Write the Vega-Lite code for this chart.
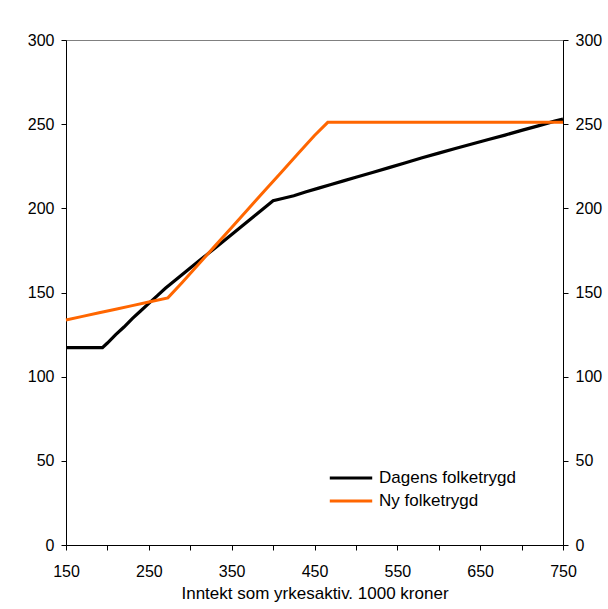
{
  "$schema": "https://vega.github.io/schema/vega-lite/v6.json",
  "width": 497,
  "height": 505,
  "autosize": {"type": "none"},
  "padding": {"left": 66, "top": 40, "right": 45, "bottom": 64},
  "background": "white",
  "config": {
    "view": {"stroke": "#808080", "strokeWidth": 1},
    "font": "Liberation Sans",
    "axis": {"labelFont": "Liberation Sans", "titleFont": "Liberation Sans", "labelColor": "#000", "titleColor": "#000", "domainColor": "#000", "tickColor": "#000", "labelFontSize": 16, "titleFontSize": 17, "titleFontWeight": "normal", "grid": false, "tickSize": 5, "domainWidth": 1, "tickWidth": 1},
    "legend": {"labelFont": "Liberation Sans", "labelFontSize": 17, "labelColor": "#000"}
  },
  "data": {
    "values": [
      {"serie": "Dagens folketrygd", "inntekt": 150, "verdi": 117.2},
      {"serie": "Dagens folketrygd", "inntekt": 194, "verdi": 117.2},
      {"serie": "Dagens folketrygd", "inntekt": 200, "verdi": 120},
      {"serie": "Dagens folketrygd", "inntekt": 210, "verdi": 125},
      {"serie": "Dagens folketrygd", "inntekt": 220, "verdi": 129.5},
      {"serie": "Dagens folketrygd", "inntekt": 230, "verdi": 134.5},
      {"serie": "Dagens folketrygd", "inntekt": 240, "verdi": 139},
      {"serie": "Dagens folketrygd", "inntekt": 250, "verdi": 143.5},
      {"serie": "Dagens folketrygd", "inntekt": 260, "verdi": 148},
      {"serie": "Dagens folketrygd", "inntekt": 270, "verdi": 152.5},
      {"serie": "Dagens folketrygd", "inntekt": 280, "verdi": 156.5},
      {"serie": "Dagens folketrygd", "inntekt": 290, "verdi": 160.5},
      {"serie": "Dagens folketrygd", "inntekt": 300, "verdi": 164.5},
      {"serie": "Dagens folketrygd", "inntekt": 310, "verdi": 168.5},
      {"serie": "Dagens folketrygd", "inntekt": 320, "verdi": 172.5},
      {"serie": "Dagens folketrygd", "inntekt": 330, "verdi": 176.5},
      {"serie": "Dagens folketrygd", "inntekt": 340, "verdi": 180.5},
      {"serie": "Dagens folketrygd", "inntekt": 350, "verdi": 184.5},
      {"serie": "Dagens folketrygd", "inntekt": 360, "verdi": 188.5},
      {"serie": "Dagens folketrygd", "inntekt": 370, "verdi": 192.5},
      {"serie": "Dagens folketrygd", "inntekt": 380, "verdi": 196.5},
      {"serie": "Dagens folketrygd", "inntekt": 390, "verdi": 200.5},
      {"serie": "Dagens folketrygd", "inntekt": 400, "verdi": 204.5},
      {"serie": "Dagens folketrygd", "inntekt": 410, "verdi": 205.7},
      {"serie": "Dagens folketrygd", "inntekt": 425, "verdi": 207.5},
      {"serie": "Dagens folketrygd", "inntekt": 440, "verdi": 209.8},
      {"serie": "Dagens folketrygd", "inntekt": 455, "verdi": 212},
      {"serie": "Dagens folketrygd", "inntekt": 470, "verdi": 214.2},
      {"serie": "Dagens folketrygd", "inntekt": 485, "verdi": 216.3},
      {"serie": "Dagens folketrygd", "inntekt": 500, "verdi": 218.5},
      {"serie": "Dagens folketrygd", "inntekt": 520, "verdi": 221.3},
      {"serie": "Dagens folketrygd", "inntekt": 540, "verdi": 224.2},
      {"serie": "Dagens folketrygd", "inntekt": 560, "verdi": 227.1},
      {"serie": "Dagens folketrygd", "inntekt": 580, "verdi": 230},
      {"serie": "Dagens folketrygd", "inntekt": 600, "verdi": 232.8},
      {"serie": "Dagens folketrygd", "inntekt": 620, "verdi": 235.5},
      {"serie": "Dagens folketrygd", "inntekt": 640, "verdi": 238.2},
      {"serie": "Dagens folketrygd", "inntekt": 660, "verdi": 240.9},
      {"serie": "Dagens folketrygd", "inntekt": 680, "verdi": 243.5},
      {"serie": "Dagens folketrygd", "inntekt": 700, "verdi": 246.3},
      {"serie": "Dagens folketrygd", "inntekt": 720, "verdi": 249},
      {"serie": "Dagens folketrygd", "inntekt": 740, "verdi": 251.8},
      {"serie": "Dagens folketrygd", "inntekt": 750, "verdi": 253},
      {"serie": "Ny folketrygd", "inntekt": 150, "verdi": 133.7},
      {"serie": "Ny folketrygd", "inntekt": 170, "verdi": 135.8},
      {"serie": "Ny folketrygd", "inntekt": 190, "verdi": 138},
      {"serie": "Ny folketrygd", "inntekt": 210, "verdi": 140},
      {"serie": "Ny folketrygd", "inntekt": 230, "verdi": 142.2},
      {"serie": "Ny folketrygd", "inntekt": 250, "verdi": 144.4},
      {"serie": "Ny folketrygd", "inntekt": 273, "verdi": 146.8},
      {"serie": "Ny folketrygd", "inntekt": 290, "verdi": 155.8},
      {"serie": "Ny folketrygd", "inntekt": 310, "verdi": 166.8},
      {"serie": "Ny folketrygd", "inntekt": 330, "verdi": 177.7},
      {"serie": "Ny folketrygd", "inntekt": 350, "verdi": 188.6},
      {"serie": "Ny folketrygd", "inntekt": 370, "verdi": 199.6},
      {"serie": "Ny folketrygd", "inntekt": 390, "verdi": 210.6},
      {"serie": "Ny folketrygd", "inntekt": 410, "verdi": 221.5},
      {"serie": "Ny folketrygd", "inntekt": 430, "verdi": 232.4},
      {"serie": "Ny folketrygd", "inntekt": 450, "verdi": 243.3},
      {"serie": "Ny folketrygd", "inntekt": 466, "verdi": 251.1},
      {"serie": "Ny folketrygd", "inntekt": 750, "verdi": 251.1}
    ]
  },
  "encoding": {
    "x": {
      "field": "inntekt", "type": "quantitative",
      "scale": {"domain": [150, 750], "nice": false, "zero": false},
      "axis": {
        "title": "Inntekt som yrkesaktiv. 1000 kroner",
        "values": [150, 200, 250, 300, 350, 400, 450, 500, 550, 600, 650, 700, 750],
        "labelExpr": "datum.value % 100 == 50 ? datum.label : ''",
        "labelPadding": 13, "titlePadding": 6, "labelFlush": false, "labelOverlap": false
      }
    },
    "color": {
      "field": "serie", "type": "nominal",
      "scale": {"domain": ["Dagens folketrygd", "Ny folketrygd"], "range": ["#000000", "#FF6600"]},
      "legend": {"title": null, "orient": "none", "legendX": 262, "legendY": 415, "symbolType": "stroke", "symbolSize": 1800, "symbolStrokeWidth": 3, "rowPadding": -8, "gridAlign": "none", "labelOffset": 5}
    }
  },
  "layer": [
    {
      "transform": [{"filter": "datum.serie == 'Dagens folketrygd'"}],
      "mark": {"type": "line", "strokeWidth": 3.2},
      "encoding": {
        "y": {
          "field": "verdi", "type": "quantitative",
          "scale": {"domain": [0, 300], "nice": false},
          "axis": {"orient": "left", "title": null, "values": [0, 50, 100, 150, 200, 250, 300], "labelPadding": 7}
        }
      }
    },
    {
      "transform": [{"filter": "datum.serie == 'Ny folketrygd'"}],
      "mark": {"type": "line", "strokeWidth": 3},
      "encoding": {
        "y": {
          "field": "verdi", "type": "quantitative",
          "scale": {"domain": [0, 300], "nice": false},
          "axis": {"orient": "right", "title": null, "values": [0, 50, 100, 150, 200, 250, 300], "labelPadding": 7}
        }
      }
    }
  ],
  "resolve": {"axis": {"y": "independent"}}
}
